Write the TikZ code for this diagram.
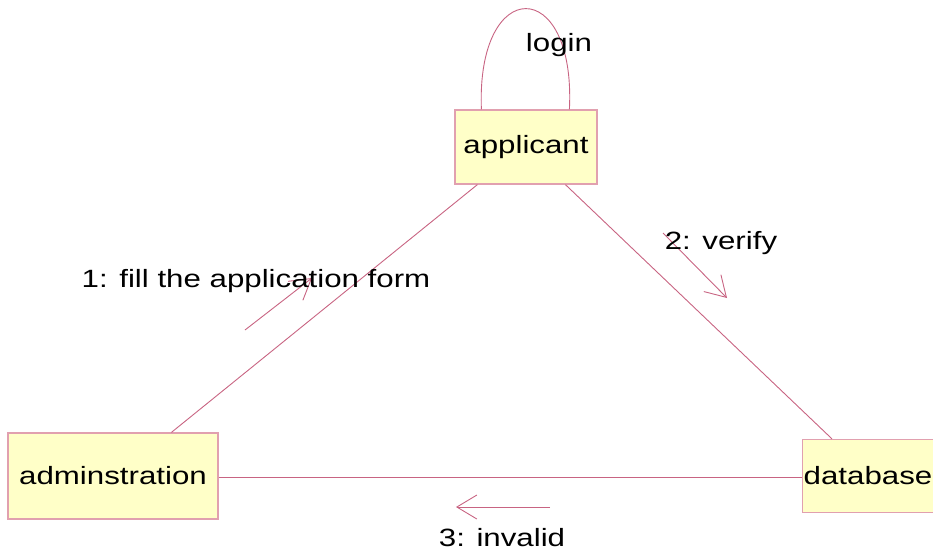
\documentclass[tikz,border=0pt]{standalone}
\usepackage{fontspec}
\setmainfont{Liberation Sans}
\usetikzlibrary{arrows.meta,calc}
\definecolor{linec}{RGB}{200,100,130}
\definecolor{boxline}{RGB}{225,160,175}
\definecolor{boxfill}{RGB}{255,255,200}
\newcommand{\wtxt}[1]{\scalebox{1.25}[1]{#1}}
\tikzset{
  obj/.style={draw=boxline, fill=boxfill, line width=1.2pt, rectangle, inner sep=0pt, font=\fontsize{25}{30}\selectfont, text=black},
  link/.style={draw=linec, line width=0.9pt},
  msg/.style={draw=linec, line width=0.9pt, -{Straight Barb[length=20pt,width=24pt,line width=0.9pt]}},
  lbl/.style={inner sep=0pt, font=\fontsize{25}{30}\selectfont, text=black}
}
\begin{document}
\begin{tikzpicture}[x=1pt,y=-1pt]
\useasboundingbox (0,0) rectangle (933,554);
\begin{scope}
\clip (0,0) rectangle (933,554);
\node[obj, minimum width=142pt, minimum height=74pt] (applicant) at (526,147) {\wtxt{applicant}};
\node[obj, minimum width=210pt, minimum height=86pt] (admin) at (113,476) {\wtxt{adminstration}};
\node[obj, minimum width=140pt, minimum height=73pt, anchor=west] (database) at (802,476) {};
\node[lbl] (dbtext) at (868,476) {\wtxt{database}};
% loop
\draw[link] ($(applicant.north west)+(27,0)$) .. controls (476,-25) and (576,-25) .. ($(applicant.north west)+(115,0)$);
\node[lbl] (login) at (559,45) {\wtxt{login}};
% links
\draw[link] ($(applicant.south west)+(23,0)$) -- ($(admin.north west)+(164,0)$);
\draw[link] ($(applicant.south west)+(111,0)$) -- ($(database.north west)+(30,0)$);
\draw[link] (admin.east |- 0,477) -- (database.west |- 0,477);
% messages
\coordinate (m1s) at (245,330);
\coordinate (m1e) at (312,278);
\draw[msg] (m1s) -- (m1e);
\node[lbl] (l1) at (256,281) {\wtxt{1: fill the application form}};
\coordinate (m2s) at (663,233);
\coordinate (m2e) at (727,298);
\draw[msg] (m2s) -- (m2e);
\node[lbl] (l2) at (721,243) {\wtxt{2: verify}};
\coordinate (m3s) at (550,507);
\coordinate (m3e) at (456,507);
\draw[msg] (m3s) -- (m3e);
\node[lbl] (l3) at (502,538) {\wtxt{3: invalid}};
\end{scope}
\end{tikzpicture}
\end{document}
